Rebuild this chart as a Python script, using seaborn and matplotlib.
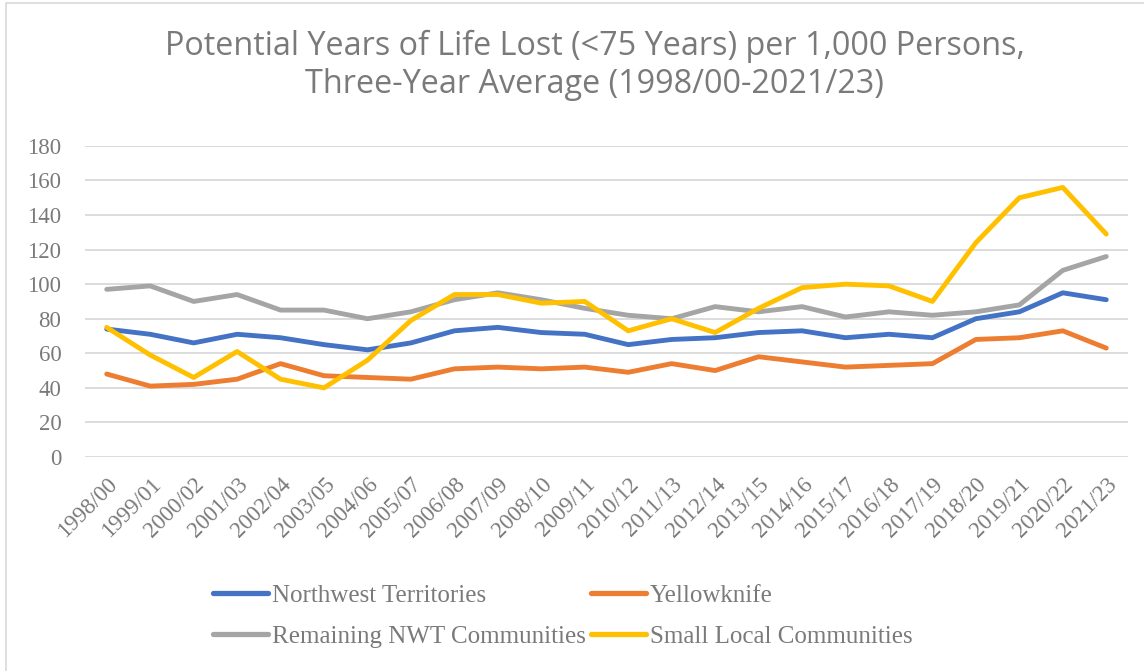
import pandas as pd
import seaborn as sns
import matplotlib.pyplot as plt
from matplotlib.patches import Rectangle

# 데이터
periods = ['1998/00', '1999/01', '2000/02', '2001/03', '2002/04', '2003/05',
           '2004/06', '2005/07', '2006/08', '2007/09', '2008/10', '2009/11',
           '2010/12', '2011/13', '2012/14', '2013/15', '2014/16', '2015/17',
           '2016/18', '2017/19', '2018/20', '2019/21', '2020/22', '2021/23']
nwt = [74, 71, 66, 71, 69, 65, 62, 66, 73, 75, 72, 71,
       65, 68, 69, 72, 73, 69, 71, 69, 80, 84, 95, 91]
yellowknife = [48, 41, 42, 45, 54, 47, 46, 45, 51, 52, 51, 52,
               49, 54, 50, 58, 55, 52, 53, 54, 68, 69, 73, 63]
remaining = [97, 99, 90, 94, 85, 85, 80, 84, 91, 95, 91, 86,
             82, 80, 87, 84, 87, 81, 84, 82, 84, 88, 108, 116]
small_local = [75, 59, 46, 61, 45, 40, 56, 79, 94, 94, 89, 90,
               73, 80, 72, 86, 98, 100, 99, 90, 124, 150, 156, 129]

series = {
    'Northwest Territories': nwt,
    'Yellowknife': yellowknife,
    'Remaining NWT Communities': remaining,
    'Small Local Communities': small_local,
}
colors = ['#4472C4', '#ED7D31', '#A5A5A5', '#FFC000']

rows = []
for name, vals in series.items():
    for p, v in zip(periods, vals):
        rows.append({'period': p, 'value': v, 'series': name})
df = pd.DataFrame(rows)

sns.set_style('white')
text_gray = '#7a7a7a'
serif = 'Liberation Serif'

fig = plt.figure(figsize=(11.44, 6.71), dpi=100)
ax = fig.add_axes([0.0743, 0.319, 0.9117, 0.4635])

sns.lineplot(data=df, x='period', y='value', hue='series', palette=colors,
             linewidth=3.5, ax=ax, legend=False, sort=False)

ax.set_ylim(0, 180)
ax.set_yticks(range(0, 181, 20))
ax.set_xlim(-0.5, len(periods) - 0.5)
ax.yaxis.grid(True, color='#d9d9d9', linewidth=1.3)
ax.set_axisbelow(True)
for s in ax.spines.values():
    s.set_visible(False)
ax.set_xlabel('')
ax.set_ylabel('')

ax.tick_params(axis='y', length=0, pad=17, labelsize=16.5, labelcolor=text_gray)
ax.tick_params(axis='x', length=0, pad=12, labelsize=16.5, labelcolor=text_gray)
for lab in ax.get_yticklabels():
    lab.set_family(serif)
ax.set_xticks(range(len(periods)))
ax.set_xticklabels(periods, rotation=45, ha='right', rotation_mode='anchor',
                   family=serif)

fig.text(0.52, 0.903, 'Potential Years of Life Lost (<75 Years) per 1,000 Persons,\nThree-Year Average (1998/00-2021/23)',
         ha='center', va='center', fontsize=23.3, color=text_gray,
         family='Open Sans', linespacing=1.2)

# 범례 (행 순서로 보이도록 열 우선 순서 조정)
names = list(series.keys())
order = [0, 2, 1, 3]
handles = [plt.Line2D([], [], color=colors[i], linewidth=3.8, solid_capstyle='round') for i in order]
fig.legend(handles, [names[i] for i in order], loc='center', bbox_to_anchor=(0.492, 0.082),
           ncol=2, frameon=False, handlelength=2.2, handletextpad=0.15,
           columnspacing=0.2, labelspacing=0.75,
           prop={'family': serif, 'size': 18}, labelcolor=text_gray)

# 차트 테두리
fig.patches.append(Rectangle((6 / 1144, -0.01), 1.1, 1 - 3 / 671 + 0.01,
                             transform=fig.transFigure, fill=False,
                             edgecolor='#d9d9d9', linewidth=1.2))

plt.savefig('out.png', dpi=100)
plt.close()
